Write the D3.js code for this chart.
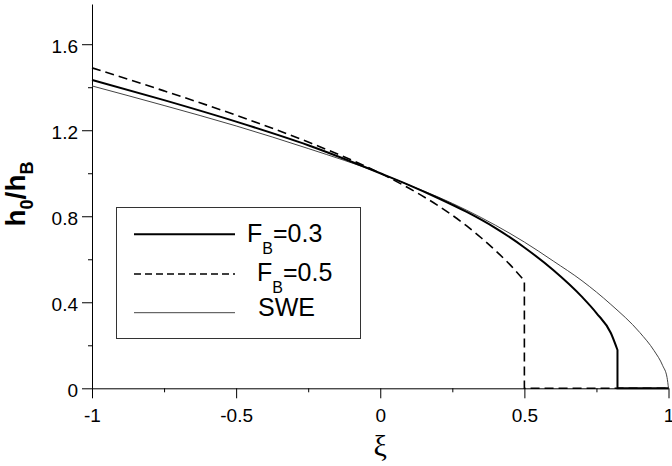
<!DOCTYPE html>
<html>
<head>
<meta charset="utf-8">
<script src="https://cdn.jsdelivr.net/npm/d3@7"></script>
<style>
  body { margin: 0; background: #fff; }
  #plot { width: 672px; height: 466px; }
  text { font-family: "Liberation Sans", Arial, sans-serif; fill: #000; }
</style>
</head>
<body>
<div id="plot"></div>
<script>
// values: xi and h0/hB
const xiFB03 = [-1, -0.75, -0.5, -0.25, 0, 0.1, 0.2, 0.3, 0.4, 0.5, 0.6, 0.7, 0.75, 0.8, 0.823];
const hFB03  = [1.434, 1.34, 1.24, 1.13, 1.0, 0.945, 0.885, 0.82, 0.745, 0.655, 0.55, 0.425, 0.35, 0.257, 0.178];
const tailFB03 = [[0.823, 0.178], [0.823, 0], [1, 0]];

const xiFB05 = [-1, -0.75, -0.5, -0.25, 0, 0.1, 0.2, 0.3, 0.35, 0.4, 0.45, 0.5];
const hFB05  = [1.49, 1.383, 1.27, 1.145, 1.0, 0.93, 0.85, 0.755, 0.70, 0.64, 0.575, 0.5];
const tailFB05 = [[0.5, 0.5], [0.5, 0], [1, 0]];

const xiSWE = [-1, -0.75, -0.5, -0.25, 0, 0.1, 0.2, 0.3, 0.4, 0.5, 0.6, 0.7, 0.8, 0.9, 0.95, 0.98, 0.995, 1];
const hSWE  = [1.406, 1.315, 1.22, 1.115, 1.0, 0.945, 0.89, 0.828, 0.758, 0.68, 0.592, 0.5, 0.39, 0.26, 0.175, 0.105, 0.05, 0];

const xMajor = [-1, -0.5, 0, 0.5, 1];
const xMinor = [-0.75, -0.25, 0.25, 0.75];
const yMajor = [0, 0.4, 0.8, 1.2, 1.6];
const yMinor = [0.2, 0.6, 1.0, 1.4];

const legendItems = [
  {main: "F", sub: "B", rest: "=0.3", dash: null, width: 2, color: "#000"},
  {main: "F", sub: "B", rest: "=0.5", dash: "7,4", width: 1.6, color: "#000"},
  {main: "SWE", sub: "", rest: "", dash: null, width: 1, color: "#444"}
];

const W = 672, H = 466;
const svg = d3.select("#plot").append("svg")
    .attr("width", W)
    .attr("height", H);

// scales
const x = d3.scaleLinear().domain([-1, 1]).range([92, 668.5]);
const y = d3.scaleLinear().domain([0, 1.787]).range([388.3, 4]);

// axes
const fmt = d => d === 0 ? "0" : String(d);

svg.append("g")
    .attr("transform", "translate(0," + y(0) + ")")
    .call(d3.axisBottom(x).tickValues(xMajor).tickFormat(fmt)
        .tickSize(10).tickSizeOuter(0).tickPadding(10));
svg.append("g")
    .attr("transform", "translate(0," + y(0) + ")")
    .call(d3.axisBottom(x).tickValues(xMinor).tickFormat("")
        .tickSize(4).tickSizeOuter(0))
    .select(".domain").remove();

const gy = svg.append("g")
    .attr("transform", "translate(" + x(-1) + ",0)")
    .call(d3.axisLeft(y).tickValues(yMajor).tickFormat(fmt)
        .tickSize(10).tickSizeOuter(0).tickPadding(4));
svg.append("g")
    .attr("transform", "translate(" + x(-1) + ",0)")
    .call(d3.axisLeft(y).tickValues(yMinor).tickFormat("")
        .tickSize(4).tickSizeOuter(0))
    .select(".domain").remove();

svg.selectAll(".tick text")
    .style("font-family", "'Liberation Sans', Arial, sans-serif")
    .style("font-size", "19px");
gy.selectAll(".tick text").attr("dy", "0.42em");
svg.selectAll(".domain, .tick line").attr("stroke", "#000").attr("stroke-width", 1);

// axis titles
svg.append("text")
    .attr("x", x(0))
    .attr("y", 456)
    .attr("text-anchor", "middle")
    .style("font-family", "'Liberation Serif', 'Times New Roman', serif")
    .style("font-size", "30px")
    .text("ξ");

const yt = svg.append("text")
    .attr("transform", "translate(25,194) rotate(-90)")
    .attr("text-anchor", "middle")
    .style("font-weight", "bold")
    .style("font-size", "28px");
yt.append("tspan").text("h");
yt.append("tspan").attr("dy", 8).style("font-size", "18px").text("0");
yt.append("tspan").attr("dy", -8).text("/h");
yt.append("tspan").attr("dy", 8).style("font-size", "18px").text("B");

// curves
const line = d3.line()
    .x(d => x(d[0]))
    .y(d => y(d[1]))
    .curve(d3.curveMonotoneX);
const straight = d3.line()
    .x(d => x(d[0]))
    .y(d => y(d[1]));

const zip = (a, b) => a.map((v, i) => [v, b[i]]);

// SWE (thin)
svg.append("path")
    .attr("d", line(zip(xiSWE, hSWE)))
    .attr("fill", "none")
    .attr("stroke", "#444")
    .attr("stroke-width", 1);

// F_B = 0.5 (dashed)
svg.append("path")
    .attr("d", line(zip(xiFB05, hFB05)) + straight(tailFB05).replace("M", "L"))
    .attr("fill", "none")
    .attr("stroke", "#000")
    .attr("stroke-width", 1.6)
    .attr("stroke-dasharray", "9,5");

// F_B = 0.3 (solid)
svg.append("path")
    .attr("d", line(zip(xiFB03, hFB03)) + straight(tailFB03).replace("M", "L"))
    .attr("fill", "none")
    .attr("stroke", "#000")
    .attr("stroke-width", 2);

// legend
const lg = svg.append("g");
lg.append("rect")
    .attr("x", 116.5).attr("y", 207.5)
    .attr("width", 244).attr("height", 131)
    .attr("fill", "#fff")
    .attr("stroke", "#333")
    .attr("stroke-width", 1);

const rowY = [234.3, 274, 312.7];
const textX = [247, 257, 258];
const textY = [242, 281, 316];
legendItems.forEach((d, i) => {
    lg.append("line")
        .attr("x1", 134).attr("x2", 235)
        .attr("y1", rowY[i]).attr("y2", rowY[i])
        .attr("stroke", d.color)
        .attr("stroke-width", d.width)
        .attr("stroke-dasharray", d.dash);
    const t = lg.append("text")
        .attr("x", textX[i]).attr("y", textY[i])
        .style("font-size", "25px");
    t.append("tspan").text(d.main);
    if (d.sub) {
        t.append("tspan").attr("dy", 12).style("font-size", "16px").text(d.sub);
        t.append("tspan").attr("dy", -12).text(d.rest);
    }
});
</script>
</body>
</html>
